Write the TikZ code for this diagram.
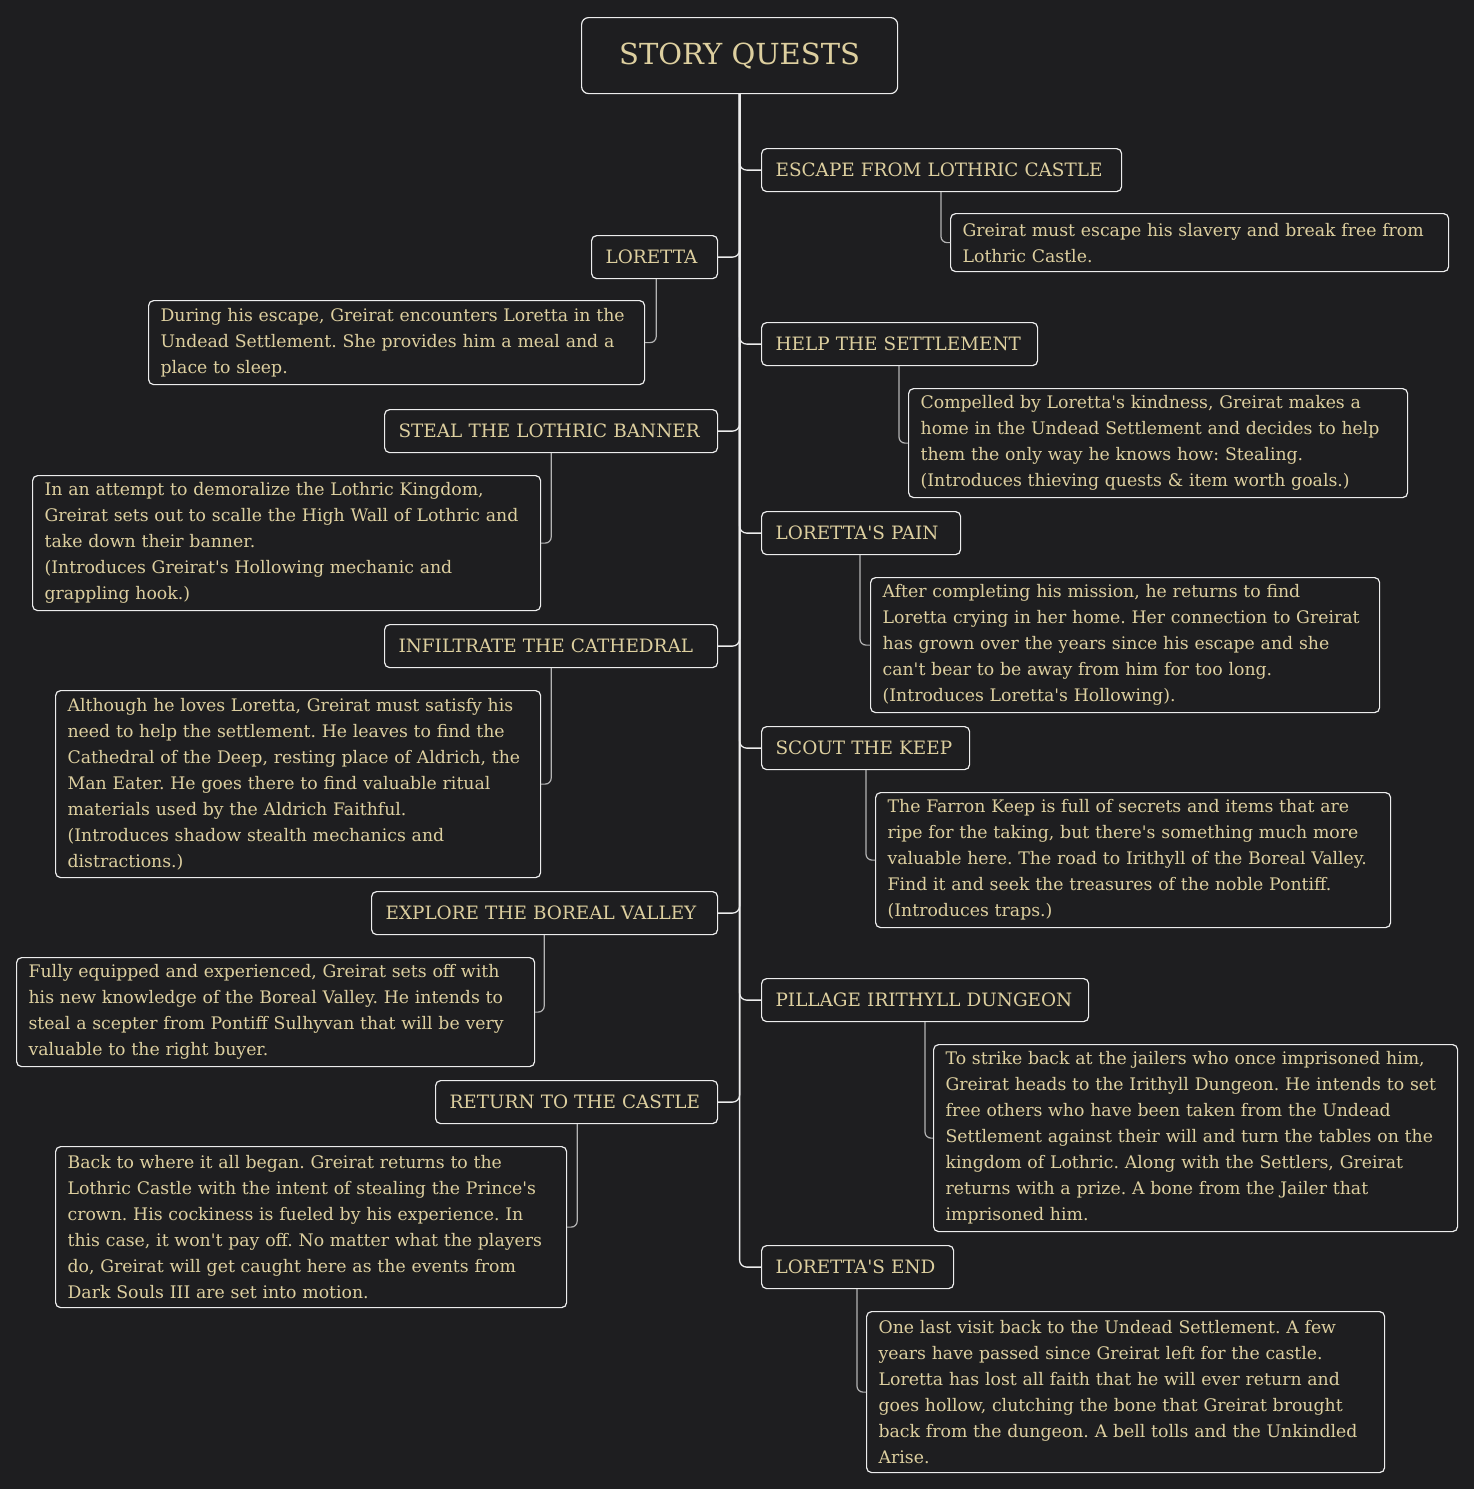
\documentclass[tikz,border=0pt]{standalone}
\usepackage{fontspec}
\usepackage{xcolor}
\usetikzlibrary{positioning}
\newfontfamily\slab{DejaVu Serif}
\definecolor{bgdark}{HTML}{1E1E20}
\definecolor{sand}{HTML}{DDCF9F}
\definecolor{edge}{HTML}{EDEDED}
\definecolor{twig}{HTML}{B4B4B4}
\frenchspacing

\begin{document}
\begin{tikzpicture}[x=1pt,y=-1pt,
        quest/.style={draw=edge,line width=1.2pt,rounded corners=5pt,text=sand,font=\slab\fontsize{18.4}{21}\selectfont,
                      anchor=north west,align=left,inner xsep=14pt,inner ysep=0pt,minimum height=43pt,text width=#1},
        info/.style={draw=edge,line width=1.2pt,rounded corners=5pt,text=sand,font=\slab\fontsize{17.3}{26}\selectfont,
                     anchor=north west,align=left,inner xsep=12pt,inner ysep=0pt,text width=#1},
        trunk/.style={draw=edge,line width=1.3pt,rounded corners=7pt},
        twigline/.style={draw=twig,line width=1.2pt,rounded corners=6pt}]
        \fill[bgdark] (0,0) rectangle (1474,1489);
        \useasboundingbox (0,0) rectangle (1474,1489);

        % title
        \node[draw=edge,line width=1.2pt,rounded corners=7pt,text=sand,font=\slab\fontsize{29}{32}\selectfont,
              minimum width=316pt,minimum height=76pt,anchor=north west] (root) at (581,17) {STORY QUESTS};

        % right side
        \node[quest=332pt] (escape) at (761,148) {ESCAPE FROM LOTHRIC CASTLE};
        \node[info=474pt,minimum height=58pt] (escapeinfo) at (950,213)
            {Greirat must escape his slavery and break free from\\Lothric Castle.};

        \node[quest=248pt] (help) at (761,322) {HELP THE SETTLEMENT};
        \node[info=475pt,minimum height=109pt] (helpinfo) at (908,388)
            {Compelled by Loretta's kindness, Greirat makes a\\home in the Undead Settlement and decides to help\\them the only way he knows how: Stealing.\\(Introduces thieving quests \& item worth goals.)};

        \node[quest=171pt] (pain) at (761,511) {LORETTA'S PAIN};
        \node[info=485pt,minimum height=135pt] (paininfo) at (870,577)
            {After completing his mission, he returns to find\\Loretta crying in her home. Her connection to Greirat\\has grown over the years since his escape and she\\can't bear to be away from him for too long.\\(Introduces Loretta's Hollowing).};

        \node[quest=180pt] (scout) at (761,726) {SCOUT THE KEEP};
        \node[info=491pt,minimum height=135pt] (scoutinfo) at (875,792)
            {The Farron Keep is full of secrets and items that are\\ripe for the taking, but there's something much more\\valuable here. The road to Irithyll of the Boreal Valley.\\Find it and seek the treasures of the noble Pontiff.\\(Introduces traps.)};

        \node[quest=299pt] (pillage) at (761,978) {PILLAGE IRITHYLL DUNGEON};
        \node[info=500pt,minimum height=187pt] (pillageinfo) at (933,1044)
            {To strike back at the jailers who once imprisoned him,\\Greirat heads to the Irithyll Dungeon. He intends to set\\free others who have been taken from the Undead\\Settlement against their will and turn the tables on the\\kingdom of Lothric. Along with the Settlers, Greirat\\returns with a prize. A bone from the Jailer that\\imprisoned him.};

        \node[quest=164pt] (finale) at (761,1245) {LORETTA'S END};
        \node[info=494pt,minimum height=161pt] (finaleinfo) at (866,1311)
            {One last visit back to the Undead Settlement. A few\\years have passed since Greirat left for the castle.\\Loretta has lost all faith that he will ever return and\\goes hollow, clutching the bone that Greirat brought\\back from the dungeon. A bell tolls and the Unkindled\\Arise.};

        % left side
        \node[quest=98pt] (loretta) at (591,235) {LORETTA};
        \node[info=472pt,minimum height=84pt] (lorettainfo) at (148,300)
            {During his escape, Greirat encounters Loretta in the\\Undead Settlement. She provides him a meal and a\\place to sleep.};

        \node[quest=305pt] (banner) at (384,409) {STEAL THE LOTHRIC BANNER};
        \node[info=484pt,minimum height=135pt] (bannerinfo) at (32,475)
            {In an attempt to demoralize the Lothric Kingdom,\\Greirat sets out to scalle the High Wall of Lothric and\\take down their banner.\\(Introduces Greirat's Hollowing mechanic and\\grappling hook.)};

        \node[quest=305pt] (cathedral) at (384,624) {INFILTRATE THE CATHEDRAL};
        \node[info=461pt,minimum height=187pt] (cathedralinfo) at (55,690)
            {Although he loves Loretta, Greirat must satisfy his\\need to help the settlement. He leaves to find the\\Cathedral of the Deep, resting place of Aldrich, the\\Man Eater. He goes there to find valuable ritual\\materials used by the Aldrich Faithful.\\(Introduces shadow stealth mechanics and\\distractions.)};

        \node[quest=318pt] (boreal) at (371,891) {EXPLORE THE BOREAL VALLEY};
        \node[info=494pt,minimum height=109pt] (borealinfo) at (16,957)
            {Fully equipped and experienced, Greirat sets off with\\his new knowledge of the Boreal Valley. He intends to\\steal a scepter from Pontiff Sulhyvan that will be very\\valuable to the right buyer.};

        \node[quest=254pt] (castle) at (435,1080) {RETURN TO THE CASTLE};
        \node[info=487pt,minimum height=161pt] (castleinfo) at (55,1146)
            {Back to where it all began. Greirat returns to the\\Lothric Castle with the intent of stealing the Prince's\\crown. His cockiness is fueled by his experience. In\\this case, it won't pay off. No matter what the players\\do, Greirat will get caught here as the events from\\Dark Souls III are set into motion.};

        % trunk to every quest
        \foreach \q in {escape,help,pain,scout,pillage,finale}
            \draw[trunk] (root.south) |- (\q.west);
        \foreach \q in {loretta,banner,cathedral,boreal,castle}
            \draw[trunk] (root.south) |- (\q.east);

        % quest to its text
        \draw[twigline] ([xshift=180pt]escape.south west) |- (escapeinfo.west);
        \draw[twigline] ([xshift=138pt]help.south west) |- (helpinfo.west);
        \draw[twigline] ([xshift=99pt]pain.south west) |- (paininfo.west);
        \draw[twigline] ([xshift=105pt]scout.south west) |- (scoutinfo.west);
        \draw[twigline] ([xshift=164pt]pillage.south west) |- (pillageinfo.west);
        \draw[twigline] ([xshift=96pt]finale.south west) |- (finaleinfo.west);

        \draw[twigline] ([xshift=-62pt]loretta.south east) |- (lorettainfo.east);
        \draw[twigline] ([xshift=-167pt]banner.south east) |- (bannerinfo.east);
        \draw[twigline] ([xshift=-167pt]cathedral.south east) |- (cathedralinfo.east);
        \draw[twigline] ([xshift=-174pt]boreal.south east) |- (borealinfo.east);
        \draw[twigline] ([xshift=-141pt]castle.south east) |- (castleinfo.east);
\end{tikzpicture}
\end{document}
